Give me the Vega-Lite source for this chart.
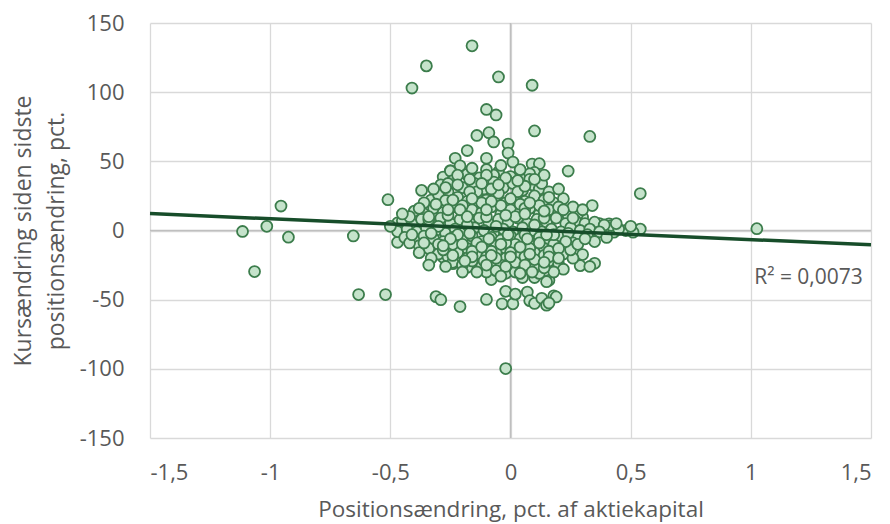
{
  "$schema": "https://vega.github.io/schema/vega-lite/v6.json",
  "width": 721,
  "height": 415,
  "autosize": {"type": "none"},
  "padding": {"left": 150, "top": 23, "right": 19, "bottom": 86},
  "background": "white",
  "config": {"view": {"stroke": null}, "font": "Open Sans"},
  "datasets": {
    "pts": [
      {"x":-0.16,"y":133.5},{"x":-0.35,"y":119},{"x":-0.41,"y":103},{"x":-0.05,"y":111},{"x":0.09,"y":105},{"x":-0.10,"y":87.5},{"x":-0.06,"y":83.5},{"x":0.10,"y":72},{"x":0.33,"y":68},{"x":-0.14,"y":68.7},{"x":-0.09,"y":70.7},{"x":-0.07,"y":64},{"x":-0.01,"y":62.5},{"x":-0.18,"y":57.8},{"x":0.24,"y":43},{"x":-0.23,"y":52.2},{"x":-0.21,"y":46.8},{"x":-0.25,"y":43.3},{"x":-0.27,"y":37.5},{"x":-0.10,"y":52.2},{"x":-0.01,"y":56},{"x":0.01,"y":49.5},{"x":0.09,"y":48},{"x":0.12,"y":48.3},{"x":0.10,"y":42},{"x":-0.05,"y":42.3},{"x":-0.18,"y":40.3},{"x":-0.51,"y":22.3},{"x":-0.37,"y":29},{"x":0.54,"y":26.7},{"x":0.34,"y":18},{"x":0.41,"y":4.8},{"x":0.54,"y":1},{"x":0.48,"y":0},{"x":0.51,"y":-1.2},{"x":0.43,"y":-1.2},{"x":0.38,"y":3},{"x":0.33,"y":-1},{"x":0.42,"y":3.6},{"x":0.37,"y":5},{"x":0.30,"y":9.6},{"x":0.23,"y":9.6},{"x":-0.47,"y":5.5},{"x":-0.47,"y":-8.5},{"x":-0.47,"y":-0.8},{"x":-0.39,"y":10},{"x":-0.43,"y":-1.5},{"x":-0.28,"y":-19.3},{"x":-0.24,"y":-24},{"x":-0.18,"y":-26.6},{"x":0.30,"y":-17.4},{"x":0.29,"y":-25.4},{"x":0.35,"y":-23.7},{"x":0.33,"y":-26},{"x":0.16,"y":-36},{"x":0.10,"y":-34},{"x":-0.06,"y":-29},{"x":-0.08,"y":-35.5},{"x":0.15,"y":-37},{"x":-0.52,"y":-46.3},{"x":-0.31,"y":-47.8},{"x":-0.29,"y":-50},{"x":-0.21,"y":-55},{"x":-0.10,"y":-49.8},{"x":-0.02,"y":-44},{"x":-0.035,"y":-53},{"x":0.01,"y":-53},{"x":0.02,"y":-46},{"x":0.07,"y":-44.5},{"x":0.08,"y":-50.7},{"x":0.10,"y":-52.7},{"x":0.13,"y":-49},{"x":0.15,"y":-54},{"x":0.18,"y":-47.2},{"x":0.19,"y":-48},{"x":0.16,"y":-52.4},{"x":-0.02,"y":-99.8},{"x":-1.115,"y":-0.7},{"x":-1.014,"y":3},{"x":-0.955,"y":17.7},{"x":-0.924,"y":-4.8},{"x":-1.065,"y":-29.7},{"x":-0.654,"y":-3.9},{"x":-0.632,"y":-46.3},{"x":1.025,"y":1.3},
      {"x":-0.28,"y":38.6},{"x":-0.25,"y":43},{"x":-0.18,"y":40.6},{"x":-0.13,"y":38},{"x":-0.07,"y":40},{"x":0.0,"y":39},{"x":0.05,"y":37},{"x":-0.1,"y":44},{"x":0.08,"y":41},
      {"x":-0.29,"y":33},{"x":-0.24,"y":36},{"x":-0.2,"y":31},{"x":-0.15,"y":34},{"x":-0.11,"y":30},{"x":-0.07,"y":35},{"x":-0.03,"y":31},{"x":0.01,"y":34},{"x":0.05,"y":29},{"x":0.09,"y":33},{"x":0.12,"y":30},{"x":-0.26,"y":28},
      {"x":-0.33,"y":22},{"x":-0.3,"y":26},{"x":-0.26,"y":20},{"x":-0.22,"y":24},{"x":-0.18,"y":21},{"x":-0.14,"y":26},{"x":-0.1,"y":22},{"x":-0.06,"y":25},{"x":-0.02,"y":20},{"x":0.02,"y":24},{"x":0.06,"y":21},{"x":0.1,"y":25},{"x":0.14,"y":22},{"x":0.18,"y":20},{"x":0.22,"y":23},
      {"x":-0.40,"y":14},{"x":-0.36,"y":12},{"x":-0.32,"y":16},{"x":-0.28,"y":13},{"x":-0.24,"y":17},{"x":-0.2,"y":12},{"x":-0.16,"y":15},{"x":-0.12,"y":13},{"x":-0.08,"y":17},{"x":-0.04,"y":12},{"x":0,"y":15},{"x":0.04,"y":13},{"x":0.08,"y":16},{"x":0.12,"y":12},{"x":0.16,"y":15},{"x":0.2,"y":13},{"x":0.24,"y":11},{"x":0.28,"y":12},
      {"x":-0.45,"y":7},{"x":-0.41,"y":5},{"x":-0.37,"y":8},{"x":-0.33,"y":6},{"x":-0.29,"y":9},{"x":-0.25,"y":5},{"x":-0.21,"y":8},{"x":-0.17,"y":6},{"x":-0.13,"y":9},{"x":-0.09,"y":5},{"x":-0.05,"y":8},{"x":-0.01,"y":6},{"x":0.03,"y":9},{"x":0.07,"y":5},{"x":0.11,"y":8},{"x":0.15,"y":6},{"x":0.19,"y":9},{"x":0.23,"y":5},{"x":0.27,"y":7},{"x":0.31,"y":5},{"x":0.35,"y":6},{"x":0.39,"y":4},
      {"x":-0.43,"y":1},{"x":-0.39,"y":-1},{"x":-0.35,"y":2},{"x":-0.31,"y":0},{"x":-0.27,"y":-2},{"x":-0.23,"y":1},{"x":-0.19,"y":-1},{"x":-0.15,"y":2},{"x":-0.11,"y":0},{"x":-0.07,"y":-2},{"x":-0.03,"y":1},{"x":0.01,"y":-1},{"x":0.05,"y":2},{"x":0.09,"y":0},{"x":0.13,"y":-1},{"x":0.17,"y":1},{"x":0.21,"y":-1},{"x":0.25,"y":2},{"x":0.29,"y":0},{"x":0.33,"y":1},{"x":0.37,"y":-1},{"x":0.45,"y":1},
      {"x":-0.44,"y":-5},{"x":-0.4,"y":-7},{"x":-0.36,"y":-4},{"x":-0.32,"y":-6},{"x":-0.28,"y":-8},{"x":-0.24,"y":-5},{"x":-0.2,"y":-7},{"x":-0.16,"y":-4},{"x":-0.12,"y":-8},{"x":-0.08,"y":-5},{"x":-0.04,"y":-7},{"x":0,"y":-4},{"x":0.04,"y":-6},{"x":0.08,"y":-8},{"x":0.12,"y":-5},{"x":0.16,"y":-7},{"x":0.2,"y":-4},{"x":0.24,"y":-6},{"x":0.28,"y":-5},{"x":0.32,"y":-3},
      {"x":-0.38,"y":-11},{"x":-0.34,"y":-13},{"x":-0.3,"y":-10},{"x":-0.26,"y":-14},{"x":-0.22,"y":-11},{"x":-0.18,"y":-13},{"x":-0.14,"y":-10},{"x":-0.1,"y":-14},{"x":-0.06,"y":-11},{"x":-0.02,"y":-13},{"x":0.02,"y":-10},{"x":0.06,"y":-14},{"x":0.1,"y":-11},{"x":0.14,"y":-13},{"x":0.18,"y":-10},{"x":0.22,"y":-12},{"x":0.26,"y":-9},
      {"x":-0.3,"y":-17},{"x":-0.26,"y":-19},{"x":-0.22,"y":-16},{"x":-0.18,"y":-20},{"x":-0.14,"y":-17},{"x":-0.1,"y":-19},{"x":-0.06,"y":-16},{"x":-0.02,"y":-20},{"x":0.02,"y":-17},{"x":0.06,"y":-19},{"x":0.1,"y":-16},{"x":0.14,"y":-18},{"x":0.18,"y":-16},{"x":0.22,"y":-17},
      {"x":-0.24,"y":-23},{"x":-0.2,"y":-25},{"x":-0.16,"y":-22},{"x":-0.12,"y":-26},{"x":-0.08,"y":-23},{"x":-0.04,"y":-25},{"x":0,"y":-22},{"x":0.04,"y":-26},{"x":0.08,"y":-23},{"x":0.12,"y":-25},{"x":0.16,"y":-22},{"x":0.2,"y":-24},
      {"x":-0.1,"y":-30},{"x":-0.06,"y":-29},{"x":-0.02,"y":-31},{"x":0.02,"y":-30},{"x":0.06,"y":-29},{"x":0.12,"y":-31},
      {"x":-0.3,"y":3},{"x":-0.26,"y":11},{"x":-0.22,"y":-3},{"x":-0.18,"y":4},{"x":-0.14,"y":-9},{"x":-0.1,"y":10},{"x":-0.06,"y":3},{"x":-0.02,"y":-9},{"x":0.02,"y":10},{"x":0.06,"y":-3},{"x":0.1,"y":4},{"x":0.14,"y":9},{"x":0.18,"y":-3},{"x":-0.28,"y":-14},{"x":-0.2,"y":18},{"x":-0.12,"y":20},{"x":-0.04,"y":18},{"x":0.04,"y":19},{"x":0.12,"y":18},{"x":-0.16,"y":-15},{"x":-0.08,"y":-15},{"x":0,"y":-16},{"x":0.08,"y":-13},{"x":0.16,"y":-15},{"x":-0.34,"y":8},{"x":-0.24,"y":-10},{"x":-0.06,"y":-20},{"x":0.02,"y":-23},{"x":0.1,"y":-27},{"x":-0.14,"y":28},{"x":-0.05,"y":27},{"x":0.03,"y":28},{"x":-0.1,"y":40},{"x":-0.02,"y":38},{"x":0.08,"y":37},{"x":0.13,"y":34},{"x":-0.26,"y":34},{"x":-0.27,"y":21.7},
      {"x":-0.32,"y":30},{"x":-0.22,"y":40},{"x":-0.16,"y":45},{"x":-0.04,"y":47},{"x":0.04,"y":44},{"x":0.14,"y":40},{"x":0.16,"y":28},{"x":0.2,"y":30},{"x":0.26,"y":17},{"x":0.3,"y":15},{"x":-0.36,"y":20},{"x":-0.42,"y":10},{"x":-0.38,"y":-16},{"x":-0.33,"y":-20},{"x":-0.34,"y":-25},{"x":0.26,"y":-20},{"x":0.25,"y":-14},{"x":0.22,"y":-28},{"x":0.05,"y":-34},{"x":-0.14,"y":-30},{"x":-0.2,"y":-30},{"x":0.18,"y":-30},{"x":0.28,"y":-10},{"x":0.35,"y":-8},{"x":0.4,"y":-5},{"x":0.44,"y":5},{"x":0.5,"y":3},{"x":-0.5,"y":3},{"x":-0.45,"y":12},{"x":-0.42,"y":-9},
      {"x":-0.08,"y":30},{"x":0.06,"y":32},{"x":-0.17,"y":28},{"x":-0.21,"y":15},{"x":0.06,"y":16},{"x":-0.11,"y":-22},{"x":0.1,"y":-21},{"x":-0.27,"y":-26},{"x":0.14,"y":-27},{"x":0.24,"y":-2},
      {"x":-0.27,"y":31},{"x":-0.22,"y":33},{"x":-0.17,"y":37},{"x":-0.12,"y":34},{"x":-0.05,"y":33},{"x":0.03,"y":36},{"x":0.1,"y":37},{"x":-0.31,"y":19},{"x":-0.24,"y":22},{"x":-0.16,"y":23},{"x":-0.08,"y":21},{"x":0.0,"y":23},{"x":0.08,"y":20},{"x":0.16,"y":24},{"x":0.2,"y":17},
      {"x":-0.38,"y":16},{"x":-0.34,"y":10},{"x":-0.26,"y":15},{"x":-0.18,"y":10},{"x":-0.1,"y":15},{"x":-0.02,"y":11},{"x":0.06,"y":12},{"x":0.14,"y":14},{"x":0.22,"y":15},{"x":0.26,"y":9},
      {"x":-0.41,"y":-3},{"x":-0.33,"y":-2},{"x":-0.25,"y":-6},{"x":-0.17,"y":-2},{"x":-0.09,"y":-6},{"x":-0.01,"y":-3},{"x":0.07,"y":-6},{"x":0.15,"y":-3},{"x":0.23,"y":-8},{"x":0.31,"y":-6},
      {"x":-0.36,"y":-9},{"x":-0.28,"y":-11},{"x":-0.2,"y":-10},{"x":-0.12,"y":-12},{"x":-0.04,"y":-10},{"x":0.04,"y":-12},{"x":0.12,"y":-9},{"x":0.2,"y":-13},{"x":-0.24,"y":-18},{"x":-0.16,"y":-19},{"x":-0.08,"y":-18},{"x":0.0,"y":-19},{"x":0.08,"y":-17},{"x":0.16,"y":-19},{"x":0.2,"y":-20},
      {"x":-0.19,"y":-22},{"x":-0.1,"y":-25},{"x":-0.02,"y":-26},{"x":0.06,"y":-25},{"x":0.14,"y":-23},{"x":-0.04,"y":-33},{"x":0.04,"y":-31},{"x":0.09,"y":-30}
    ],
    "trend": [{"x":-1.5,"y":12.2},{"x":1.5,"y":-10.3}],
    "vzero": [{"x":0,"y":-150,"y2":150}],
    "hzero": [{"x":-1.5,"x2":1.5,"y":0}],
    "note": [{"x":1.24,"y":-34,"label":"R² = 0,0073"}]
  },
  "encoding": {
    "x": {"field": "x", "type": "quantitative", "scale": {"domain": [-1.5, 1.5], "nice": false, "zero": false},
      "axis": {"values": [-1.5,-1,-0.5,0,0.5,1,1.5], "labelExpr": "(datum.value < 0 ? '-' : '') + replace(format(abs(datum.value), '.1~f'), '.', ',')",
        "grid": true, "gridColor": "#d9d9d9", "gridWidth": 1.3, "domain": false, "ticks": false,
        "labelFontSize": 22, "labelColor": "#595959", "labelPadding": 24, "labelFont": "Open Sans",
        "title": "Positionsændring, pct. af aktiekapital", "titleFontSize": 22.5, "titleFontWeight": "normal", "titleColor": "#595959", "titleFont": "Open Sans",
        "titleY": 78, "titleBaseline": "alphabetic"}},
    "y": {"field": "y", "type": "quantitative", "scale": {"domain": [-150, 150], "nice": false, "zero": false},
      "axis": {"values": [-150,-100,-50,0,50,100,150], "labelExpr": "(datum.value < 0 ? '-' : '') + format(abs(datum.value), 'd')",
        "grid": true, "gridColor": "#d9d9d9", "gridWidth": 1.3, "domain": false, "ticks": false,
        "labelFontSize": 22, "labelColor": "#595959", "labelPadding": 26, "labelFont": "Open Sans",
        "title": ["Kursændring siden sidste", "positionsændring, pct."], "titleFontSize": 23, "titleFontWeight": "normal", "titleColor": "#595959", "titleFont": "Open Sans",
        "titleAngle": -90, "titleX": -120, "titleY": 207.5, "titleAlign": "center", "titleBaseline": "alphabetic", "titleLineHeight": 33}}
  },
  "layer": [
    {
      "data": {"name": "vzero"},
      "mark": {"type": "rule", "color": "#bfbfbf", "strokeWidth": 1.6},
      "encoding": {"y2": {"field": "y2"}}
    },
    {
      "data": {"name": "hzero"},
      "mark": {"type": "rule", "color": "#bfbfbf", "strokeWidth": 1.6},
      "encoding": {"x2": {"field": "x2"}}
    },
    {
      "data": {"name": "pts"},
      "mark": {"type": "circle", "size": 120, "fill": "#c5e3cb", "stroke": "#3c7d4c", "strokeWidth": 1.8, "opacity": 1}
    },
    {
      "data": {"name": "trend"},
      "mark": {"type": "line", "color": "#174d2a", "strokeWidth": 3.5}
    },
    {
      "data": {"name": "note"},
      "mark": {"type": "text", "fontSize": 21, "color": "#595959", "font": "Open Sans", "align": "center", "baseline": "middle"},
      "encoding": {"text": {"field": "label"}}
    }
  ]
}
